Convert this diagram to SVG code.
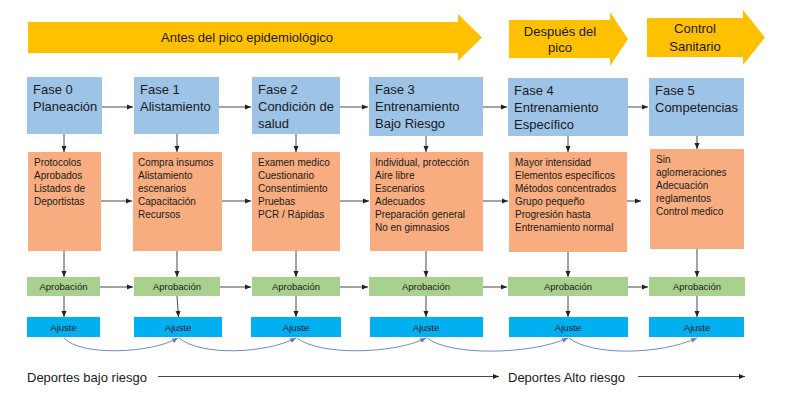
<svg xmlns="http://www.w3.org/2000/svg" width="788" height="402" viewBox="0 0 788 402">
<defs>
<style>
.band{fill:#FFC000}
.phase{fill:#9DC3E6}
.act{fill:#F7AD80}
.apr{fill:#A9D18E}
.aj{fill:#00B0F0}
text{font-family:"Liberation Sans",Arial,sans-serif;fill:#1a1a1a}
.t13{font-size:13px}
.t10{font-size:10px}
.t95{font-size:9.5px}
.mid{text-anchor:middle}
.conn{stroke:#333;stroke-width:0.9;fill:none;marker-end:url(#ah)}
.curve{stroke:#5B7FC7;stroke-width:0.9;fill:none;marker-end:url(#ahb)}
</style>
<marker id="ah" markerUnits="userSpaceOnUse" markerWidth="6" markerHeight="6" refX="6" refY="3" orient="auto"><path d="M0,0.5 L6,3 L0,5.5 z" fill="#222"/></marker>
<marker id="ahb" markerUnits="userSpaceOnUse" markerWidth="6" markerHeight="6" refX="6" refY="3" orient="auto"><path d="M0,0.5 L6,3 L0,5.5 z" fill="#5B7FC7"/></marker>
</defs>
<rect width="788" height="402" fill="#fff"/>

<g id="band1"><path class="band" d="M28,22 H458 V14 L482,37.5 L458,61 V53 H28 z"/><text class="t13 mid" x="247" y="42">Antes del pico epidemiológico</text></g>
<g id="band2"><path class="band" d="M509,20 H610 V12 L628,39 L610,66 V58 H509 z"/><text class="t13 mid" x="560" y="36">Después del</text><text class="t13 mid" x="560" y="52">pico</text></g>
<g id="band3"><path class="band" d="M647,18 H743 V10 L765,37.5 L743,65 V57 H647 z"/><text class="t13 mid" x="695" y="33">Control</text><text class="t13 mid" x="695" y="51">Sanitario</text></g>

<g id="fase0"><rect class="phase" x="27" y="77" width="75" height="57"/><text class="t13" x="33" y="94">Fase 0</text><text class="t13" x="33" y="111">Planeación</text></g>
<g id="fase1"><rect class="phase" x="134" y="77" width="85" height="57"/><text class="t13" x="140" y="94">Fase 1</text><text class="t13" x="140" y="111">Alistamiento</text></g>
<g id="fase2"><rect class="phase" x="252" y="77" width="88" height="57"/><text class="t13" x="258" y="94">Fase 2</text><text class="t13" x="258" y="111">Condición de</text><text class="t13" x="258" y="128">salud</text></g>
<g id="fase3"><rect class="phase" x="369" y="77" width="114" height="59"/><text class="t13" x="375" y="94">Fase 3</text><text class="t13" x="375" y="111">Entrenamiento</text><text class="t13" x="375" y="128">Bajo Riesgo</text></g>
<g id="fase4"><rect class="phase" x="508" y="78" width="120" height="58"/><text class="t13" x="514" y="95">Fase 4</text><text class="t13" x="514" y="112">Entrenamiento</text><text class="t13" x="514" y="129">Específico</text></g>
<g id="fase5"><rect class="phase" x="649" y="78" width="95" height="58"/><text class="t13" x="655" y="95">Fase 5</text><text class="t13" x="655" y="112">Competencias</text></g>

<g id="act0"><rect class="act" x="28" y="152" width="73" height="99"/><text class="t10" x="34" y="166">Protocolos</text><text class="t10" x="34" y="179">Aprobados</text><text class="t10" x="34" y="192">Listados de</text><text class="t10" x="34" y="205">Deportistas</text></g>
<g id="act1"><rect class="act" x="133" y="152" width="89" height="99"/><text class="t10" x="138" y="166">Compra insumos</text><text class="t10" x="138" y="179">Alistamiento</text><text class="t10" x="138" y="192">escenarios</text><text class="t10" x="138" y="205">Capacitación</text><text class="t10" x="138" y="218">Recursos</text></g>
<g id="act2"><rect class="act" x="252" y="152" width="88" height="99"/><text class="t10" x="258" y="166">Examen medico</text><text class="t10" x="258" y="179">Cuestionario</text><text class="t10" x="258" y="192">Consentimiento</text><text class="t10" x="258" y="205">Pruebas</text><text class="t10" x="258" y="218">PCR / Rápidas</text></g>
<g id="act3"><rect class="act" x="370" y="152" width="113" height="99"/><text class="t10" x="375" y="166">Individual, protección</text><text class="t10" x="375" y="179">Aire libre</text><text class="t10" x="375" y="192">Escenarios</text><text class="t10" x="375" y="205">Adecuados</text><text class="t10" x="375" y="218">Preparación general</text><text class="t10" x="375" y="231">No en gimnasios</text></g>
<g id="act4"><rect class="act" x="509" y="152" width="118" height="100"/><text class="t10" x="515" y="166">Mayor intensidad</text><text class="t10" x="515" y="179">Elementos específicos</text><text class="t10" x="515" y="192">Métodos concentrados</text><text class="t10" x="515" y="205">Grupo pequeño</text><text class="t10" x="515" y="218">Progresión hasta</text><text class="t10" x="515" y="231">Entrenamiento normal</text></g>
<g id="act5"><rect class="act" x="650" y="149" width="94" height="100"/><text class="t10" x="656" y="163">Sin</text><text class="t10" x="656" y="176">aglomeraciones</text><text class="t10" x="656" y="189">Adecuación</text><text class="t10" x="656" y="202">reglamentos</text><text class="t10" x="656" y="215">Control medico</text></g>

<g id="apr0"><rect class="apr" x="27" y="277" width="73" height="19"/><text class="t95 mid" x="63.5" y="290">Aprobación</text></g>
<g id="apr1"><rect class="apr" x="134" y="277" width="86" height="19"/><text class="t95 mid" x="177" y="290">Aprobación</text></g>
<g id="apr2"><rect class="apr" x="252" y="277" width="88" height="19"/><text class="t95 mid" x="296" y="290">Aprobación</text></g>
<g id="apr3"><rect class="apr" x="369" y="277" width="114" height="19"/><text class="t95 mid" x="426" y="290">Aprobación</text></g>
<g id="apr4"><rect class="apr" x="508" y="277" width="120" height="19"/><text class="t95 mid" x="568" y="290">Aprobación</text></g>
<g id="apr5"><rect class="apr" x="649" y="277" width="96" height="19"/><text class="t95 mid" x="697" y="290">Aprobación</text></g>

<g id="aj0"><rect class="aj" x="27" y="317" width="73" height="20"/><text class="t95 mid" x="63.5" y="330.5">Ajuste</text></g>
<g id="aj1"><rect class="aj" x="134" y="317" width="88" height="20"/><text class="t95 mid" x="178" y="330.5">Ajuste</text></g>
<g id="aj2"><rect class="aj" x="251" y="317" width="90" height="20"/><text class="t95 mid" x="296" y="330.5">Ajuste</text></g>
<g id="aj3"><rect class="aj" x="370" y="317" width="113" height="20"/><text class="t95 mid" x="426" y="330.5">Ajuste</text></g>
<g id="aj4"><rect class="aj" x="509" y="317" width="119" height="20"/><text class="t95 mid" x="568" y="330.5">Ajuste</text></g>
<g id="aj5"><rect class="aj" x="649" y="317" width="95" height="20"/><text class="t95 mid" x="697" y="330.5">Ajuste</text></g>

<g id="bottom"><text class="t13" x="27" y="382">Deportes bajo riesgo</text><text class="t13" x="508" y="382">Deportes Alto riesgo</text></g>

<g id="connectors">
<path class="conn" d="M102,107 H133"/>
<path class="conn" d="M219,107 H251"/>
<path class="conn" d="M340,107 H368"/>
<path class="conn" d="M483,107 H507"/>
<path class="conn" d="M628,107 H648"/>
<path class="conn" d="M101,201 H132"/>
<path class="conn" d="M222,201 H251"/>
<path class="conn" d="M340,201 H369"/>
<path class="conn" d="M483,201 H508"/>
<path class="conn" d="M627,201 H641"/>
<path class="conn" d="M100,287 H133"/>
<path class="conn" d="M220,287 H251"/>
<path class="conn" d="M340,287 H368"/>
<path class="conn" d="M483,287 H507"/>
<path class="conn" d="M628,287 H648"/>
<path class="conn" d="M64,134 V152"/>
<path class="conn" d="M177,134 V152"/>
<path class="conn" d="M296,134 V152"/>
<path class="conn" d="M426,136 V152"/>
<path class="conn" d="M568,136 V152"/>
<path class="conn" d="M697,136 V149"/>
<path class="conn" d="M64,251 V277"/>
<path class="conn" d="M177,251 V277"/>
<path class="conn" d="M296,251 V277"/>
<path class="conn" d="M426,251 V277"/>
<path class="conn" d="M568,252 V277"/>
<path class="conn" d="M697,249 V277"/>
<path class="conn" d="M64,296 V317"/>
<path class="conn" d="M177,296 L178.5,317"/>
<path class="conn" d="M296,296 V317"/>
<path class="conn" d="M426,296 V317"/>
<path class="conn" d="M568,296 V317"/>
<path class="conn" d="M697,296 V317"/>
<path class="curve" d="M64,338 C80,356 150,354 178,338"/>
<path class="curve" d="M179,338 C200,356 265,354 296,338"/>
<path class="curve" d="M297,338 C320,356 395,354 426,338"/>
<path class="curve" d="M427,338 C450,356 530,355 568,338"/>
<path class="curve" d="M569,338 C592,356 660,355 697,338"/>
<path class="conn" d="M158,376.5 H499"/>
<path class="conn" d="M638,376.5 H745"/>
</g>
</svg>
